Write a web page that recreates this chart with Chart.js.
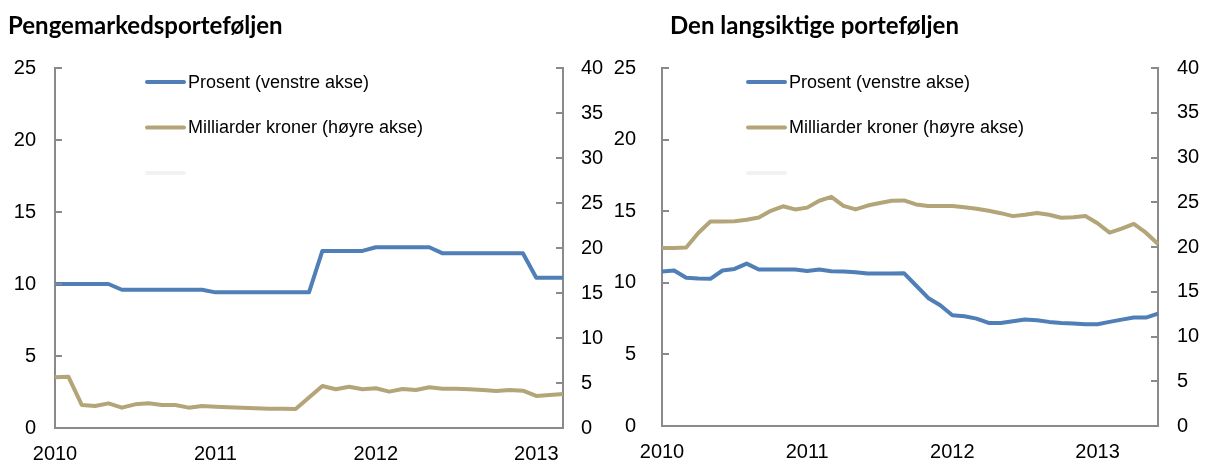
<!DOCTYPE html>
<html>
<head>
<meta charset="utf-8">
<script src="https://cdn.jsdelivr.net/npm/chart.js@4"></script>
<style>
  body { margin: 0; background: #fff; }
  #wrap { position: relative; width: 1211px; height: 464px; overflow: hidden; }
  canvas { position: absolute; top: 0; }
  .title { position: absolute; top: 10px; font: bold 24px Lato, "Open Sans", sans-serif; color: #000; white-space: nowrap; }
</style>
</head>
<body>
<div id="wrap">
  <canvas id="leftChart" width="610" height="464" style="left:0"></canvas>
  <canvas id="rightChart" width="601" height="464" style="left:610px"></canvas>
  <div class="title" style="left:8px">Pengemarkedsporteføljen</div>
  <div class="title" style="left:670px">Den langsiktige porteføljen</div>
</div>
<script>
'use strict';

/* Data */
const months = [
  '2010-01', '2010-02', '2010-03', '2010-04', '2010-05', '2010-06', '2010-07', '2010-08', '2010-09', '2010-10', '2010-11', '2010-12',
  '2011-01', '2011-02', '2011-03', '2011-04', '2011-05', '2011-06', '2011-07', '2011-08', '2011-09', '2011-10', '2011-11', '2011-12',
  '2012-01', '2012-02', '2012-03', '2012-04', '2012-05', '2012-06', '2012-07', '2012-08', '2012-09', '2012-10', '2012-11', '2012-12',
  '2013-01', '2013-02', '2013-03', '2013-04', '2013-05', '2013-06'
];

// Pengemarkedsporteføljen (Jan 2010 - Mar 2013)
const moneyPercent = [
  10.0, 10.0, 10.0, 10.0, 10.0, 9.6, 9.6, 9.6, 9.6, 9.6, 9.6, 9.6,
  9.42, 9.42, 9.42, 9.42, 9.42, 9.42, 9.42, 9.42, 12.3, 12.3, 12.3, 12.3,
  12.55, 12.55, 12.55, 12.55, 12.55, 12.13, 12.13, 12.13, 12.13, 12.13, 12.13, 12.13,
  10.44, 10.44, 10.44
];
const moneyBillions = [
  5.63, 5.7, 2.56, 2.44, 2.74, 2.26, 2.63, 2.74, 2.56, 2.56, 2.26, 2.44,
  2.37, 2.3, 2.26, 2.19, 2.15, 2.15, 2.1, 3.4, 4.67, 4.3, 4.59, 4.3,
  4.41, 4.04, 4.33, 4.22, 4.52, 4.37, 4.37, 4.3, 4.22, 4.1, 4.22, 4.15,
  3.56, 3.67, 3.78
];

// Den langsiktige porteføljen (Jan 2010 - Jun 2013)
const longPercent = [
  10.79, 10.86, 10.35, 10.3, 10.28, 10.86, 10.97, 11.34, 10.93, 10.93, 10.93, 10.93,
  10.83, 10.93, 10.81, 10.79, 10.74, 10.65, 10.65, 10.65, 10.67, 9.81, 8.94, 8.43,
  7.73, 7.66, 7.5, 7.2, 7.2, 7.31, 7.43, 7.39, 7.27, 7.2, 7.15, 7.1,
  7.1, 7.27, 7.43, 7.57, 7.57, 7.85
];
const longBillions = [
  19.89, 19.89, 19.95, 21.56, 22.85, 22.85, 22.87, 23.05, 23.3, 24.04, 24.55, 24.2,
  24.4, 25.17, 25.6, 24.6, 24.2, 24.63, 24.92, 25.17, 25.2, 24.76, 24.59, 24.59,
  24.58, 24.45, 24.28, 24.05, 23.78, 23.45, 23.6, 23.8, 23.6, 23.27, 23.33, 23.46,
  22.65, 21.6, 22.05, 22.58, 21.6, 20.33
];

const percentTicks = [0, 5, 10, 15, 20, 25];
const billionTicks = [0, 5, 10, 15, 20, 25, 30, 35, 40];
const legendLabels = ['Prosent (venstre akse)', 'Milliarder kroner (høyre akse)', ''];

/* Styles */
const blue = '#4f7fb6';
const tan = '#b3a577';
const faint = '#f2f2f2';
const axisColor = '#8a8a8a';
const tickFont = { family: '"Liberation Sans", Arial, sans-serif', size: 20 };

/* Plugins */
const innerTicks = {
  id: 'innerTicks',
  afterDraw(chart) {
    const ctx = chart.ctx;
    const area = chart.chartArea;
    ctx.save();
    ctx.strokeStyle = axisColor;
    ctx.lineWidth = 2;
    ['y', 'y1'].forEach(function (id) {
      const scale = chart.scales[id];
      const x0 = id === 'y' ? area.left : area.right;
      const dir = id === 'y' ? 1 : -1;
      scale.ticks.forEach(function (tick) {
        const y = Math.round(scale.getPixelForValue(tick.value));
        ctx.beginPath();
        ctx.moveTo(x0, y);
        ctx.lineTo(x0 + dir * 7, y);
        ctx.stroke();
      });
    });
    ctx.restore();
  }
};

const lineLegend = {
  id: 'lineLegend',
  afterDatasetsDraw(chart, args, opts) {
    const ctx = chart.ctx;
    const area = chart.chartArea;
    const colors = [blue, tan, faint];
    ctx.save();
    ctx.font = '18px "Liberation Sans", Arial, sans-serif';
    ctx.textBaseline = 'middle';
    colors.forEach(function (color, i) {
      const x = area.left + opts.offset;
      const y = area.top + 14 + i * 45.5;
      ctx.strokeStyle = color;
      ctx.lineWidth = 4;
      ctx.lineCap = 'round';
      ctx.beginPath();
      ctx.moveTo(x, y);
      ctx.lineTo(x + 37, y);
      ctx.stroke();
      ctx.fillStyle = '#000';
      ctx.fillText(legendLabels[i], x + 41, y + 1);
    });
    ctx.restore();
  }
};

/* Charts */
function makeChart(id, percent, billions, layout) {
  const ctx = document.getElementById(id).getContext('2d');
  const noGrid = { display: false, drawTicks: false, tickLength: 0 };

  // eslint-disable-next-line no-undef
  return new Chart(ctx, {
    type: 'line',
    data: {
      labels: months.slice(0, percent.length),
      datasets: [{
          label: legendLabels[0],
          data: percent,
          yAxisID: 'y',
          borderColor: blue,
          borderWidth: 4,
          pointRadius: 0,
          tension: 0,
          borderJoinStyle: 'round'
        },
        {
          label: legendLabels[1],
          data: billions,
          yAxisID: 'y1',
          borderColor: tan,
          borderWidth: 4,
          pointRadius: 0,
          tension: 0,
          borderJoinStyle: 'round'
        }
      ]
    },
    options: {
      responsive: false,
      animation: false,
      layout: { padding: { top: 68, left: 0, right: 0, bottom: 0 } },
      plugins: {
        legend: { display: false },
        tooltip: { enabled: false },
        lineLegend: { offset: layout.legendOffset }
      },
      scales: {
        x: {
          offset: false,
          grid: noGrid,
          border: { display: true, color: axisColor, width: 2 },
          ticks: {
            autoSkip: false,
            maxRotation: 0,
            padding: 14,
            color: '#000',
            font: tickFont,
            callback: function (value) {
              const label = this.getLabelForValue(value);
              return label.endsWith('-01') ? label.slice(0, 4) : '';
            }
          },
          afterFit: function (scale) { scale.height = 36; }
        },
        y: {
          position: 'left',
          min: percentTicks[0],
          max: percentTicks[percentTicks.length - 1],
          grid: noGrid,
          border: { display: true, color: axisColor, width: 2 },
          ticks: { stepSize: percentTicks[1] - percentTicks[0], padding: layout.leftPad, color: '#000', font: tickFont },
          afterFit: function (scale) { scale.width = layout.leftWidth; }
        },
        y1: {
          position: 'right',
          min: billionTicks[0],
          max: billionTicks[billionTicks.length - 1],
          grid: noGrid,
          border: { display: true, color: axisColor, width: 2 },
          ticks: { stepSize: billionTicks[1] - billionTicks[0], padding: layout.rightPad, color: '#000', font: tickFont },
          afterFit: function (scale) { scale.width = layout.rightWidth; }
        }
      }
    },
    plugins: [innerTicks, lineLegend]
  });
}

makeChart('leftChart', moneyPercent, moneyBillions, { leftWidth: 55, rightWidth: 47, leftPad: 19, rightPad: 18, legendOffset: 92 });
makeChart('rightChart', longPercent, longBillions, { leftWidth: 52, rightWidth: 53, leftPad: 26, rightPad: 19, legendOffset: 86 });
</script>
</body>
</html>
